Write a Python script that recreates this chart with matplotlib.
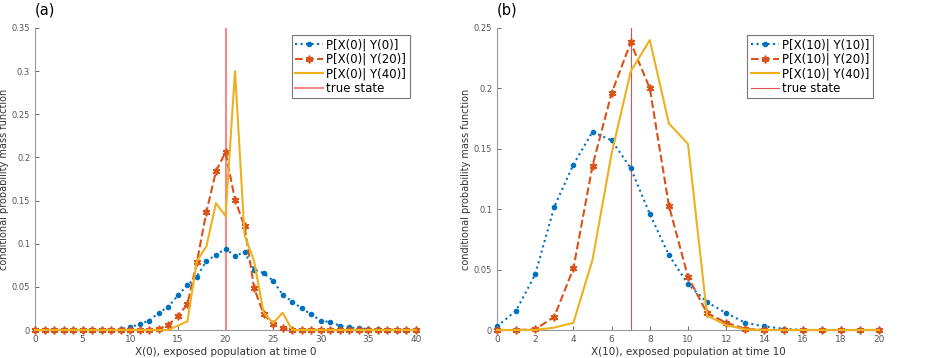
import numpy as np
import matplotlib
matplotlib.use("Agg")
import matplotlib.pyplot as plt

# panel (a): X(0), support 0..40
xa = list(range(41))
a_y0 = [0, 0, 0, 0, 0, 0, 0, 0, 0.0005, 0.001, 0.003, 0.007, 0.011, 0.020, 0.027, 0.040,
        0.052, 0.062, 0.080, 0.087, 0.094, 0.086, 0.090, 0.070, 0.066, 0.057, 0.041, 0.033,
        0.025, 0.018, 0.011, 0.009, 0.005, 0.003, 0.002, 0.001, 0.001, 0.0005, 0, 0, 0]
a_y20 = [0, 0, 0, 0, 0, 0, 0, 0, 0, 0, 0, 0, 0, 0.001, 0.006, 0.016, 0.030, 0.079, 0.137,
         0.184, 0.206, 0.151, 0.120, 0.049, 0.018, 0.007, 0.002, 0, 0, 0, 0, 0, 0, 0, 0,
         0, 0, 0, 0, 0, 0]
a_y40 = [0, 0, 0, 0, 0, 0, 0, 0, 0, 0, 0, 0, 0, 0, 0, 0.005, 0.010, 0.080, 0.097, 0.147,
         0.132, 0.300, 0.110, 0.080, 0.020, 0.008, 0.020, 0, 0, 0, 0, 0, 0, 0, 0, 0, 0, 0,
         0, 0, 0]
a_true = 20

# panel (b): X(10), support 0..20
xb = list(range(21))
b_y10 = [0.003, 0.016, 0.046, 0.102, 0.137, 0.164, 0.157, 0.134, 0.096, 0.062, 0.038,
         0.023, 0.014, 0.006, 0.003, 0.001, 0, 0, 0, 0, 0]
b_y20 = [0, 0, 0.0005, 0.011, 0.051, 0.136, 0.196, 0.238, 0.200, 0.103, 0.044, 0.014,
         0.006, 0.001, 0, 0, 0, 0, 0, 0, 0]
b_y40 = [0, 0, 0, 0.002, 0.006, 0.058, 0.146, 0.214, 0.240, 0.171, 0.154, 0.012, 0.004,
         0.0005, 0, 0, 0, 0, 0, 0, 0]
b_true = 7

blue = '#0072BD'
orange = '#D95319'
yellow = '#EDB120'
pink = '#F48A8A'
grey = '#555555'

fig = plt.figure(figsize=(9.26, 3.58), dpi=100)
ax1 = fig.add_axes([35/926, 28/358, 381/926, 302/358])
ax2 = fig.add_axes([497/926, 28/358, 382/926, 302/358])


def panel(ax, x, y1, y2, y3, true_x, labels, xlim, xticks, ylim, yticks, xlabel, tag, tlw, tcol):
    ax.plot(x, y1, ':', color=blue, lw=1.5, marker='o', ms=3, mec=blue, mfc=blue,
            label=labels[0], clip_on=False, zorder=3)
    ax.plot(x, y2, '--', color=orange, lw=1.5, marker=(6, 2, 0), ms=5.5, mew=1.2,
            label=labels[1], clip_on=False, zorder=3)
    ax.plot(x, y3, '-', color=yellow, lw=1.5, label=labels[2], clip_on=False, zorder=3)
    ax.axvline(true_x, color=tcol, lw=tlw, label='true state', zorder=2)
    ax.set_xlim(xlim)
    ax.set_ylim(ylim)
    ax.set_xticks(xticks)
    ax.set_yticks(yticks)
    ax.set_yticklabels(['0' if v == 0 else ('%g' % v) for v in yticks])
    ax.tick_params(direction='in', length=3, colors=grey, labelsize=6.5, width=0.6)
    ax.tick_params(axis='y', labelsize=6)
    for s in ['top', 'right']:
        ax.spines[s].set_visible(False)
    for s in ['left', 'bottom']:
        ax.spines[s].set_color('#999999')
        ax.spines[s].set_linewidth(0.8)
    ax.set_xlabel(xlabel, fontsize=7.5, color='#333333', labelpad=2)
    ax.set_ylabel('conditional probability mass function', fontsize=7, color='#333333', labelpad=2)
    leg = ax.legend(loc='upper right', bbox_to_anchor=(0.99, 0.985), fontsize=8.5, frameon=True,
                    fancybox=False, edgecolor='#555555', borderpad=0.3, handlelength=2.4,
                    handletextpad=0.25, labelspacing=0.12, borderaxespad=0.2)
    leg.get_frame().set_linewidth(0.8)
    ax.text(0.0, 1.06, tag, transform=ax.transAxes, fontsize=10.5, ha='left', va='center')


panel(ax1, xa, a_y0, a_y20, a_y40, a_true,
      ['P[X(0)| Y(0)]', 'P[X(0)| Y(20)]', 'P[X(0)| Y(40)]'],
      (0, 40), list(range(0, 41, 5)), (0, 0.35), [0, 0.05, 0.1, 0.15, 0.2, 0.25, 0.3, 0.35],
      'X(0), exposed population at time 0', '(a)', 1.5, pink)
panel(ax2, xb, b_y10, b_y20, b_y40, b_true,
      ['P[X(10)| Y(10)]', 'P[X(10)| Y(20)]', 'P[X(10)| Y(40)]'],
      (0, 20), list(range(0, 21, 2)), (0, 0.25), [0, 0.05, 0.1, 0.15, 0.2, 0.25],
      'X(10), exposed population at time 10', '(b)', 0.8, '#E05050')

fig.savefig('out.png', dpi=100)
